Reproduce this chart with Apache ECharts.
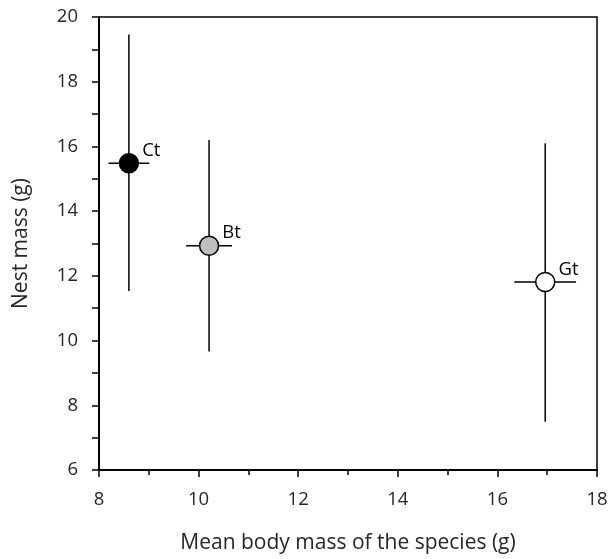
<!DOCTYPE html>
<html>
<head>
<meta charset="utf-8">
<script src="https://cdn.jsdelivr.net/npm/echarts@6/dist/echarts.min.js"></script>
<style>html,body{margin:0;padding:0;background:#fff}#c{width:611px;height:559px}</style>
</head>
<body>
<div id="c"></div>
<script>
var species = ['Ct', 'Bt', 'Gt'];
var bodyMass = [8.60, 10.21, 16.96];
var bodyMassErr = [0.41, 0.46, 0.62];
var nestMass = [15.48, 12.93, 11.81];
var nestLow = [11.53, 9.66, 7.49];
var nestHigh = [19.46, 16.20, 16.10];
var fillColors = ['#000000', '#bfbfbf', '#ffffff'];

var FONT = 'Open Sans';
var chart = echarts.init(document.getElementById('c'), null, {renderer: 'canvas'});

var errData = species.map(function (s, i) {
  return [bodyMass[i], nestMass[i], bodyMassErr[i], nestLow[i], nestHigh[i]];
});
var ptData = species.map(function (s, i) {
  return {value: [bodyMass[i], nestMass[i]], name: s, itemStyle: {color: fillColors[i]}};
});

chart.setOption({
  animation: false,
  grid: {left: 99, right: 14, top: 17, bottom: 89, show: true, borderColor: '#000', borderWidth: 1.5, backgroundColor: 'transparent'},
  xAxis: {
    type: 'value', min: 8, max: 18, interval: 2,
    name: 'Mean body mass of the species (g)', nameLocation: 'middle', nameGap: 63,
    nameTextStyle: {fontFamily: FONT, fontSize: 21, color: '#262626'},
    axisLine: {lineStyle: {color: '#000', width: 2}},
    axisTick: {show: true, length: 7, lineStyle: {color: '#000', width: 1.5}},
    minorTick: {show: true, splitNumber: 2, length: 5, lineStyle: {color: '#000', width: 1.5}},
    splitLine: {show: false},
    axisLabel: {fontFamily: FONT, fontSize: 18.5, color: '#262626', margin: 20}
  },
  yAxis: {
    type: 'value', min: 6, max: 20, interval: 2,
    name: 'Nest mass (g)', nameLocation: 'middle', nameGap: 67, nameRotate: 90,
    nameTextStyle: {fontFamily: FONT, fontSize: 21, color: '#262626'},
    axisLine: {lineStyle: {color: '#000', width: 2}},
    axisTick: {show: true, length: 7, lineStyle: {color: '#000', width: 1.5}},
    minorTick: {show: true, splitNumber: 2, length: 7, lineStyle: {color: '#000', width: 1.5}},
    splitLine: {show: false},
    axisLabel: {fontFamily: FONT, fontSize: 18.5, color: '#262626', margin: 21}
  },
  series: [
    {
      type: 'custom',
      data: errData,
      z: 2,
      renderItem: function (params, api) {
        var x = api.value(0), y = api.value(1), xe = api.value(2), lo = api.value(3), hi = api.value(4);
        var pTop = api.coord([x, hi]), pBot = api.coord([x, lo]);
        var pL = api.coord([x - xe, y]), pR = api.coord([x + xe, y]);
        var st = {stroke: '#000', lineWidth: 1.5};
        return {
          type: 'group',
          children: [
            {type: 'line', shape: {x1: pTop[0], y1: pTop[1], x2: pBot[0], y2: pBot[1]}, style: st},
            {type: 'line', shape: {x1: pL[0], y1: pL[1], x2: pR[0], y2: pR[1]}, style: st}
          ]
        };
      }
    },
    {
      type: 'scatter',
      data: ptData,
      z: 3,
      symbol: 'circle',
      symbolSize: 19,
      itemStyle: {borderColor: '#000', borderWidth: 1.5, opacity: 1},
      label: {
        show: true, formatter: '{b}', position: [23.5, -2.5], verticalAlign: 'middle', align: 'left',
        fontFamily: FONT, fontSize: 18.5, color: '#000'
      }
    }
  ]
});
</script>
</body>
</html>
